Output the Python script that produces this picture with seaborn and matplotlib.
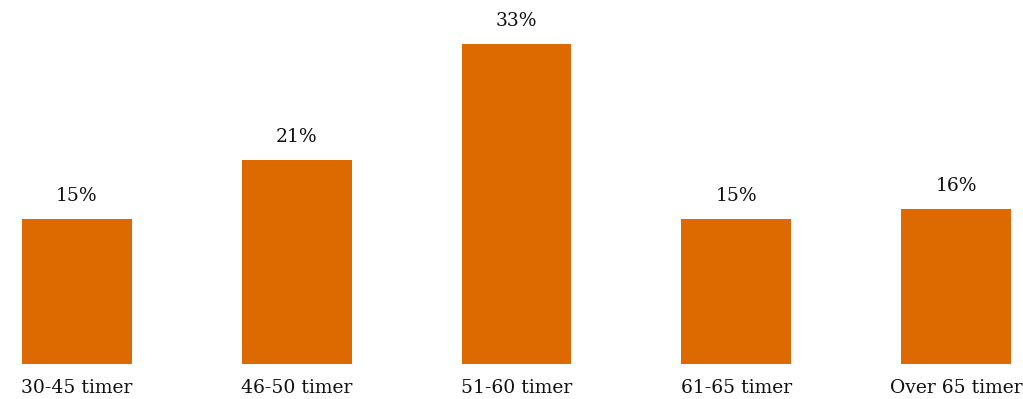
import matplotlib
matplotlib.use("Agg")
import matplotlib.pyplot as plt
import seaborn as sns
import pandas as pd

categories = ["30-45 timer", "46-50 timer", "51-60 timer", "61-65 timer", "Over 65 timer"]
values = [15, 21, 33, 15, 16]

sns.set_theme(style="white")
plt.rcParams['font.family'] = ['DejaVu Serif']

df = pd.DataFrame({"cat": categories, "val": values})

fig = plt.figure(figsize=(10.23, 3.99), dpi=100)
ax = fig.add_axes([22/1023, 35/399, 989/1023, 320/399])
sns.barplot(data=df, x="cat", y="val", color="#DD6A00", saturation=1, width=0.5,
            linewidth=0, ax=ax)
ax.set_xlim(-0.25, 4.25)
ax.set_ylim(0, 33)
for c in ax.containers:
    ax.bar_label(c, labels=[f"{v}%" for v in values], padding=10, fontsize=13.5, color="#111111")
ax.set_xlabel("")
ax.set_ylabel("")
ax.set_yticks([])
ax.tick_params(axis="x", length=0, pad=11, labelsize=13.5, labelcolor="#111111")
for s in ax.spines.values():
    s.set_visible(False)
fig.savefig("out.png", dpi=100)
